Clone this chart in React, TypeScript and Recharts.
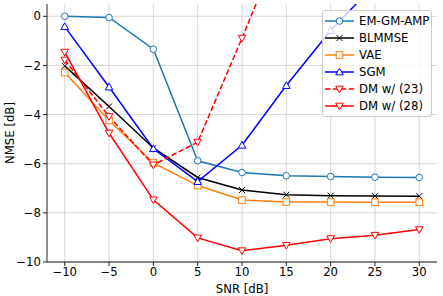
import React from "react";
import {
  LineChart,
  Line,
  XAxis,
  YAxis,
  CartesianGrid,
  Label,
} from "recharts";

const snr = [-10, -5, 0, 5, 10, 15, 20, 25, 30];
const emGmAmp = [0, -0.05, -1.34, -5.88, -6.36, -6.49, -6.52, -6.55, -6.56];
const blmmse = [-2.02, -3.67, -5.36, -6.56, -7.07, -7.26, -7.3, -7.31, -7.32];
const vae = [-2.29, -4.24, -5.97, -6.89, -7.48, -7.56, -7.56, -7.57, -7.57];
const sgm = [-0.42, -2.88, -5.39, -6.73, -5.25, -2.82, -0.58, 1.3, 3.2];
const dm23 = [-1.78, -4.08, -6.05, -5.12, -0.89, 3.5, 6.5, 9, 11];
const dm28 = [-1.46, -4.75, -7.47, -9.02, -9.54, -9.32, -9.05, -8.91, -8.68];

const xTicks = [-10, -5, 0, 5, 10, 15, 20, 25, 30];
const yTicks = [-10, -8, -6, -4, -2, 0];

const data = snr.map((s, i) => ({
  snr: s,
  emGmAmp: emGmAmp[i],
  blmmse: blmmse[i],
  vae: vae[i],
  sgm: sgm[i],
  dm23: dm23[i],
  dm28: dm28[i],
}));

const FONT = "'DejaVu Sans', sans-serif";
const FS = 11.7;
const fmt = (v: number) => (v < 0 ? "\u2212" + Math.abs(v) : String(v));

type Kind = "circle" | "x" | "square" | "up" | "down";

function Marker({ kind, cx, cy, color }: { kind: Kind; cx: number; cy: number; color: string }) {
  const r = 3.3;
  if (kind === "circle")
    return <circle cx={cx} cy={cy} r={r} fill="#fff" stroke={color} strokeWidth={1} />;
  if (kind === "square")
    return (
      <rect x={cx - r} y={cy - r} width={2 * r} height={2 * r} fill="#fff" stroke={color} strokeWidth={1} />
    );
  if (kind === "x")
    return (
      <path
        d={`M${cx - 3},${cy - 3}L${cx + 3},${cy + 3}M${cx - 3},${cy + 3}L${cx + 3},${cy - 3}`}
        stroke={color}
        strokeWidth={1}
      />
    );
  const h = 3.8;
  const d =
    kind === "up"
      ? `M${cx},${cy - h}L${cx + h},${cy + h * 0.75}L${cx - h},${cy + h * 0.75}Z`
      : `M${cx},${cy + h}L${cx + h},${cy - h * 0.75}L${cx - h},${cy - h * 0.75}Z`;
  return <path d={d} fill="#fff" stroke={color} strokeWidth={1} />;
}

const series = [
  { key: "emGmAmp", name: "EM-GM-AMP", color: "#1f77b4", kind: "circle" as Kind, dash: undefined },
  { key: "blmmse", name: "BLMMSE", color: "#000000", kind: "x" as Kind, dash: undefined },
  { key: "vae", name: "VAE", color: "#ff7f0e", kind: "square" as Kind, dash: undefined },
  { key: "sgm", name: "SGM", color: "#0000ff", kind: "up" as Kind, dash: undefined },
  { key: "dm23", name: "DM w/ (23)", color: "#ff0000", kind: "down" as Kind, dash: "5.5 2.4" },
  { key: "dm28", name: "DM w/ (28)", color: "#ff0000", kind: "down" as Kind, dash: undefined },
];

// legend drawn as a plain overlay, like matplotlib's upper-right box
function LegendBox() {
  return (
    <div
      style={{
        position: "absolute",
        left: 322,
        top: 10,
        width: 110,
        boxSizing: "border-box",
        border: "1px solid #cccccc",
        borderRadius: 3,
        background: "rgba(255,255,255,0.8)",
        padding: "1px 0 2px 1px",
        fontFamily: FONT,
        fontSize: FS,
        color: "#000",
      }}
    >
      {series.map((s) => (
        <div key={s.key} style={{ display: "flex", alignItems: "center", height: 17 }}>
          <svg width={32} height={12} style={{ marginRight: 3 }}>
            <line x1={1} y1={6} x2={30} y2={6} stroke={s.color} strokeWidth={1.5} strokeDasharray={s.dash} />
            <Marker kind={s.kind} cx={15.5} cy={6} color={s.color} />
          </svg>
          <span style={{ whiteSpace: "nowrap" }}>{s.name}</span>
        </div>
      ))}
    </div>
  );
}

export default function App() {
  return (
    <div style={{ position: "absolute", left: 0, top: 0, width: 443, height: 296, background: "#fff" }}>
      <LineChart width={443} height={296} data={data} margin={{ top: 4, right: 6, bottom: 0, left: 0 }}>
        <CartesianGrid
          xAxisId="b"
          yAxisId="l"
          stroke="#d8d8d8"
          strokeWidth={1}
          horizontalValues={yTicks}
          verticalValues={xTicks}
        />
        <XAxis
          xAxisId="b"
          dataKey="snr"
          type="number"
          domain={[-12, 32]}
          ticks={xTicks}
          tickFormatter={fmt}
          height={34}
          axisLine={{ stroke: "#222", strokeWidth: 1 }}
          tickLine={{ stroke: "#222" }}
          tickSize={4}
          tick={{ fill: "#000", fontSize: FS, fontFamily: FONT }}
          interval={0}
        >
          <Label value="SNR [dB]" position="insideBottom" offset={3} style={{ fill: "#000", fontSize: FS, fontFamily: FONT }} />
        </XAxis>
        <XAxis xAxisId="t" orientation="top" dataKey="snr" type="number" domain={[-12, 32]} height={0} tick={false} tickLine={false} axisLine={{ stroke: "#222", strokeWidth: 1 }} />
        <YAxis
          yAxisId="l"
          type="number"
          domain={[-10, 0.5]}
          allowDataOverflow
          ticks={yTicks}
          tickFormatter={fmt}
          width={47}
          axisLine={{ stroke: "#222", strokeWidth: 1 }}
          tickLine={{ stroke: "#222" }}
          tickSize={4}
          tick={{ fill: "#000", fontSize: FS, fontFamily: FONT }}
          interval={0}
        >
          <Label value="NMSE [dB]" angle={-90} position="insideLeft" offset={10} style={{ fill: "#000", fontSize: FS, fontFamily: FONT, textAnchor: "middle" }} />
        </YAxis>
        <YAxis yAxisId="r" orientation="right" type="number" domain={[-10, 0.5]} width={0} tick={false} tickLine={false} axisLine={{ stroke: "#222", strokeWidth: 1 }} />
        {series.map((s) => (
          <Line
            key={s.key}
            xAxisId="b"
            yAxisId="l"
            dataKey={s.key}
            name={s.name}
            type="linear"
            stroke={s.color}
            strokeWidth={1.5}
            strokeDasharray={s.dash}
            isAnimationActive={false}
            dot={(p: any) => <Marker key={`${s.key}-${p.index}`} kind={s.kind} cx={p.cx} cy={p.cy} color={s.color} />}
            activeDot={false}
          />
        ))}
      </LineChart>
      <LegendBox />
    </div>
  );
}
